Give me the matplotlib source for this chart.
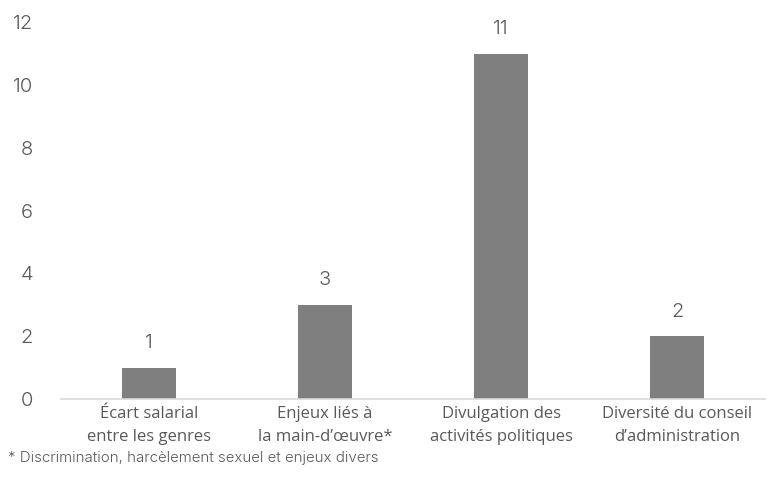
import matplotlib.pyplot as plt

# Données
categories = ["Écart salarial\nentre les genres", "Enjeux liés à\nla main-d\u2019œuvre*",
              "Divulgation des\nactivités politiques", "Diversité du conseil\nd\u2019administration"]
valeurs = [1, 3, 11, 2]
yticks = [0, 2, 4, 6, 8, 10, 12]
note = "* Discrimination, harcèlement sexuel et enjeux divers"

fig = plt.figure(figsize=(7.67, 4.91), dpi=100)
ax = fig.add_axes([0.0795, 0.187, 0.918, 0.768])

x = range(len(categories))
bars = ax.bar(x, valeurs, width=0.31, color='#7f7f7f', zorder=2)

# Étiquettes des valeurs
for xi, v in zip(x, valeurs):
    ax.text(xi, v + 0.5, str(v), ha='center', va='bottom', fontsize=14.5,
            family='Inter', fontweight=300, color='#595959')

ax.set_xlim(-0.5, len(categories) - 0.5)
ax.set_ylim(0, 12)
ax.set_yticks(yticks)
ax.set_yticklabels([str(t) for t in yticks], family='Inter', fontweight=300,
                   fontsize=14.5, color='#595959')
ax.set_xticks(list(x))
ax.set_xticklabels(categories, family='Open Sans', fontsize=12, color='#595959',
                   linespacing=1.6)
ax.tick_params(axis='both', length=0)
ax.tick_params(axis='y', pad=20)
ax.tick_params(axis='x', pad=5)

for s in ['top', 'right', 'left']:
    ax.spines[s].set_visible(False)
ax.spines['bottom'].set_color('#d9d9d9')
ax.spines['bottom'].set_linewidth(1.2)

fig.text(0.01, 0.067, note, family='Inter', fontweight=300, fontsize=10.8,
         color='#595959', ha='left', va='center')

fig.savefig('out.png', dpi=100)
